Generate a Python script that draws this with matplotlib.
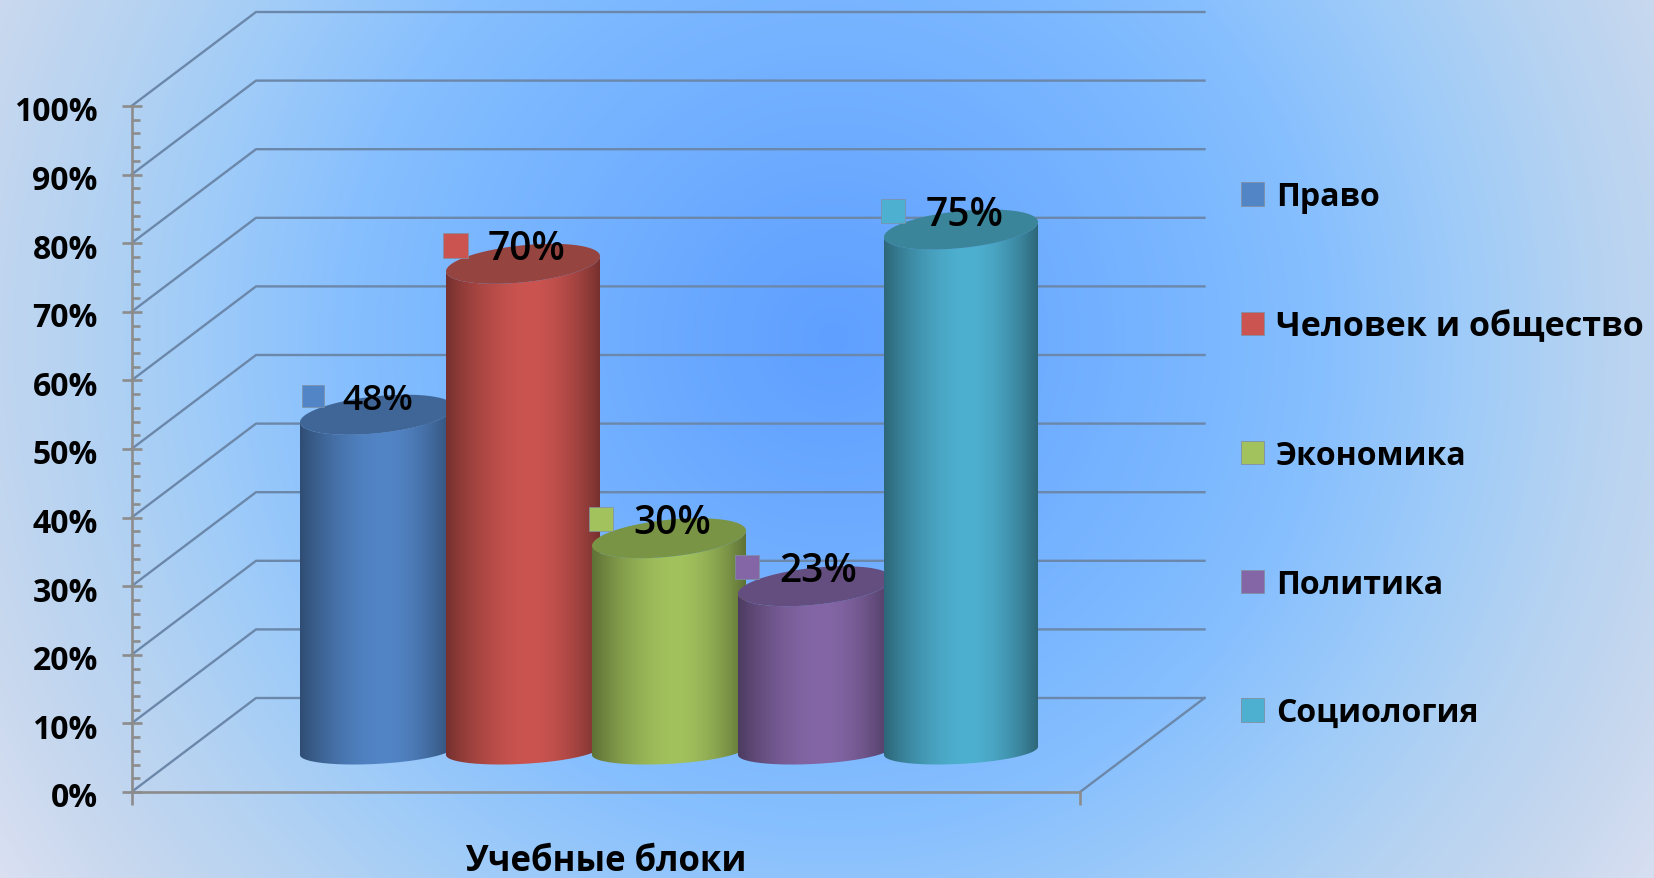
import numpy as np
import matplotlib
matplotlib.use('Agg')
import matplotlib.pyplot as plt
from matplotlib.colors import LinearSegmentedColormap, to_rgb
from matplotlib.patches import Patch, PathPatch
from matplotlib.path import Path
from matplotlib.ticker import MultipleLocator, PercentFormatter
from matplotlib.transforms import Affine2D

plt.rcParams['font.family'] = ['Open Sans', 'DejaVu Sans']

blocks = ['Право', 'Человек и общество', 'Экономика', 'Политика', 'Социология']
values = [48, 70, 30, 23, 75]
positions = [0, 1, 2, 3, 4]
axis_title = 'Учебные блоки'

colors = ['#5285c6', '#cb5450', '#a2c25d', '#8466a6', '#4eb0d0']
top_colors = ['#3f6696', '#954440', '#7a9445', '#644e80', '#3a8599']
label_sizes = [25.5, 28, 28, 28, 28]
square_sizes = [16, 18, 17, 17, 17]
square_dx = [13, 9, 9, 9, 9]
label_dx = [21, 23.5, 23.5, 23.5, 23.5]

W, H = 1654, 879
PX_X = 146.0   # pixels per bar slot
PX_Y = 6.86    # pixels per percent

fig = plt.figure(figsize=(W / 100, H / 100), dpi=100)

# background, radial from the middle of the plot
bg = fig.add_axes([0, 0, 1, 1], zorder=0)
bg.axis('off')
yy, xx = np.mgrid[0:H, 0:W]
rad = np.hypot(xx - 833, yy - 338) / 1000
stops = [(0, '#5f9fff'), (0.4, '#7db9ff'), (0.5, '#88c0fe'), (0.64, '#a0ccf8'),
         (0.75, '#b4d2f2'), (0.89, '#c8d8ee'), (1, '#dbe0f2')]
bg.imshow(rad, cmap=LinearSegmentedColormap.from_list('bg', stops), vmin=0, vmax=1, aspect='auto')

ax = fig.add_axes([131.5 / W, (H - 793) / H, 948.5 / W, 686 / H], zorder=1)
ax.patch.set_visible(False)
x_left = (131.5 - 315) / PX_X
x_right = (1080 - 315) / PX_X
ax.set_xlim(x_left, x_right)
ax.set_ylim(0, 100)

# walls and floor
back_dx = 124.5 / PX_X
back_dy = 94 / PX_Y
grid_col = '#6b87aa'
for v in range(0, 101, 10):
    ax.plot([x_left, x_left + back_dx, x_right + back_dx],
            [v, v + back_dy, v + back_dy], color=grid_col, lw=1.7, clip_on=False, zorder=1)
ax.plot([x_right, x_right + back_dx], [0, back_dy], color=grid_col, lw=1.7, clip_on=False, zorder=1)

# axes
for side in ['top', 'right']:
    ax.spines[side].set_visible(False)
for side in ['left', 'bottom']:
    ax.spines[side].set_color('#8c8c8c')
    ax.spines[side].set_linewidth(1.9)
    ax.spines[side].set_zorder(2)
ax.yaxis.set_major_locator(MultipleLocator(10))
ax.yaxis.set_minor_locator(MultipleLocator(2))
ax.yaxis.set_major_formatter(PercentFormatter(100, decimals=0))
ax.tick_params(axis='y', which='major', direction='inout', length=14.5, width=1.9, color='#8c8c8c', pad=17)
ax.tick_params(axis='y', which='minor', direction='in', length=6, width=1.9, color='#8c8c8c')
ax.set_xticks([x_left, x_right])
ax.set_xticklabels([])
ax.tick_params(axis='x', direction='out', length=9, width=1.9, color='#8c8c8c')
for lab in ax.get_yticklabels():
    lab.set_fontsize(23)
    lab.set_fontweight('bold')
    lab.set_transform(lab.get_transform() + Affine2D().translate(0, -2))
ax.set_xlabel(axis_title, fontsize=25, fontweight='bold', labelpad=24)

# cylinders stand half way into the floor
offset = ax.transData + Affine2D().translate(62, 48)
bar_w = 154 / PX_X
t = np.linspace(0, np.pi, 80)
shade_x = np.linspace(0, 1, 400)
shade_f = 1 - 0.42 * np.abs((shade_x - 0.55) / np.where(shade_x < 0.55, 0.55, 0.45)) ** 1.8

for i, (pos, val, col, top) in enumerate(zip(positions, values, colors, top_colors)):
    left, right = pos - bar_w / 2, pos + bar_w / 2
    # bottom arc runs left to right, top edge follows the tilted ellipse
    bx = pos - np.cos(t) * bar_w / 2
    by = -1.0 - 1.9 * np.sin(t) - 0.6 * np.cos(t)
    tx = pos + np.cos(t) * bar_w / 2
    ty = val + 2.7 * np.sin(t) + 1.1 * np.cos(t)
    ty_low = val - 2.7 * np.sin(t) + 1.1 * np.cos(t)
    body = Path(np.column_stack([np.r_[bx, tx], np.r_[by, ty_low]]))
    z = 3 + i * 2
    clip = PathPatch(body, transform=offset, facecolor='none', edgecolor='none', zorder=z)
    ax.add_patch(clip)
    rgb = np.array(to_rgb(col))
    grad = shade_f[None, :, None] * rgb
    im = ax.imshow(grad, extent=[left, right, -5, val + 4], transform=offset, aspect='auto',
                   zorder=z, interpolation='bilinear')
    im.set_clip_path(clip)
    cap = Path(np.column_stack([np.r_[tx, tx[::-1]], np.r_[ty, ty_low[::-1]]]))
    ax.add_patch(PathPatch(cap, transform=offset, facecolor=top, edgecolor='none', zorder=z + 0.5))
ax.set_xlim(x_left, x_right)
ax.set_ylim(0, 100)

# data labels with their colour squares
for pos, val, col, fs, ss, sdx, ldx in zip(positions, values, colors, label_sizes, square_sizes, square_dx, label_dx):
    sx = pos - bar_w / 2 + sdx / PX_X
    sy = val + 19 / PX_Y
    ax.plot([sx], [sy], marker='s', ms=ss, mfc=col, mec='#7f8fa5', mew=0.5, transform=offset, zorder=20, clip_on=False)
    ax.annotate(f'{val}%', xy=(sx, sy), xycoords=offset, xytext=(ldx, -3), textcoords='offset points',
                fontsize=fs, fontweight='semibold', va='center', ha='left', zorder=21, annotation_clip=False)

handles = [Patch(facecolor=c, edgecolor='#7f8fa5', lw=0.6, label=b) for c, b in zip(colors, blocks)]
leg = fig.legend(handles=handles, loc='upper left', bbox_to_anchor=(1241 / W, 1 - 181 / H), frameon=False,
                 prop={'size': 23, 'weight': 'bold'}, labelspacing=3.0, handlelength=0.72, handleheight=0.75,
                 handletextpad=0.38, borderpad=0, borderaxespad=0)
leg.get_texts()[1].set_fontsize(24.5)

fig.savefig('out.png', dpi=100)
